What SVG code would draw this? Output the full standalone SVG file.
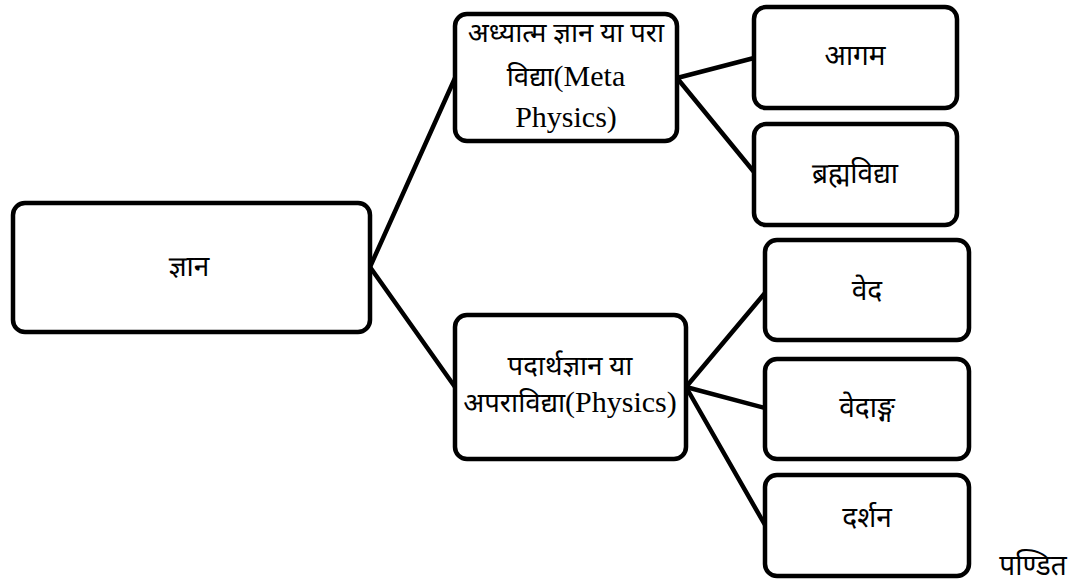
<svg xmlns="http://www.w3.org/2000/svg" width="1083" height="584" viewBox="0 0 1083 584">
<style>
.box{fill:#fff;stroke:#000;stroke-width:4.5}
.con{stroke:#000;stroke-width:4.5;fill:none;stroke-linecap:round}
.dv{font-family:"Noto Sans Devanagari","Noto Sans","Liberation Sans",sans-serif;font-size:28px;fill:#000;text-anchor:middle}
.mx{font-family:"Liberation Serif","Noto Sans Devanagari","Noto Sans",serif;font-size:27.5px;fill:#000;text-anchor:middle}
.lt{font-size:30px}
</style>
<rect width="1083" height="584" fill="#fff"/>
<g id="connectors">
<line class="con" x1="370" y1="267" x2="455" y2="78"/>
<line class="con" x1="370" y1="267" x2="455" y2="387"/>
<line class="con" x1="677" y1="78" x2="754" y2="58"/>
<line class="con" x1="677" y1="78" x2="754" y2="172"/>
<line class="con" x1="686" y1="387" x2="765" y2="293"/>
<line class="con" x1="686" y1="387" x2="765" y2="408"/>
<line class="con" x1="686" y1="387" x2="765" y2="525"/>
</g>
<g id="n-gyan"><rect class="box" x="13" y="203" width="357" height="129" rx="12"/><text class="dv" x="189" y="276">ज्ञान</text></g>
<g id="n-adhyatma"><rect class="box" x="455" y="14" width="222" height="127" rx="12"/>
<text class="mx" x="566" y="42">अध्यात्म ज्ञान या परा</text>
<text class="mx" x="566" y="86">विद्या<tspan class="lt">(Meta</tspan></text>
<text class="mx" x="566" y="127"><tspan class="lt">Physics)</tspan></text></g>
<g id="n-padartha"><rect class="box" x="455" y="315" width="231" height="144" rx="12"/>
<text class="mx" x="570" y="375">पदार्थज्ञान या</text>
<text class="mx" x="570" y="412">अपराविद्या<tspan class="lt">(Physics)</tspan></text></g>
<g id="n-agam"><rect class="box" x="754" y="7" width="203" height="101" rx="12"/><text class="dv" x="855" y="65">आगम</text></g>
<g id="n-brahma"><rect class="box" x="754" y="124" width="203" height="101" rx="12"/><text class="dv" x="855" y="183">ब्रह्मविद्या</text></g>
<g id="n-veda"><rect class="box" x="765" y="240" width="204" height="100" rx="12"/><text class="dv" x="867" y="300">वेद</text></g>
<g id="n-vedanga"><rect class="box" x="765" y="359" width="204" height="100" rx="12"/><text class="dv" x="867" y="417">वेदाङ्ग</text></g>
<g id="n-darshan"><rect class="box" x="765" y="475" width="204" height="101" rx="12"/><text class="dv" x="867" y="527">दर्शन</text></g>
<text class="dv" x="1033" y="575">पण्डित</text>
</svg>
